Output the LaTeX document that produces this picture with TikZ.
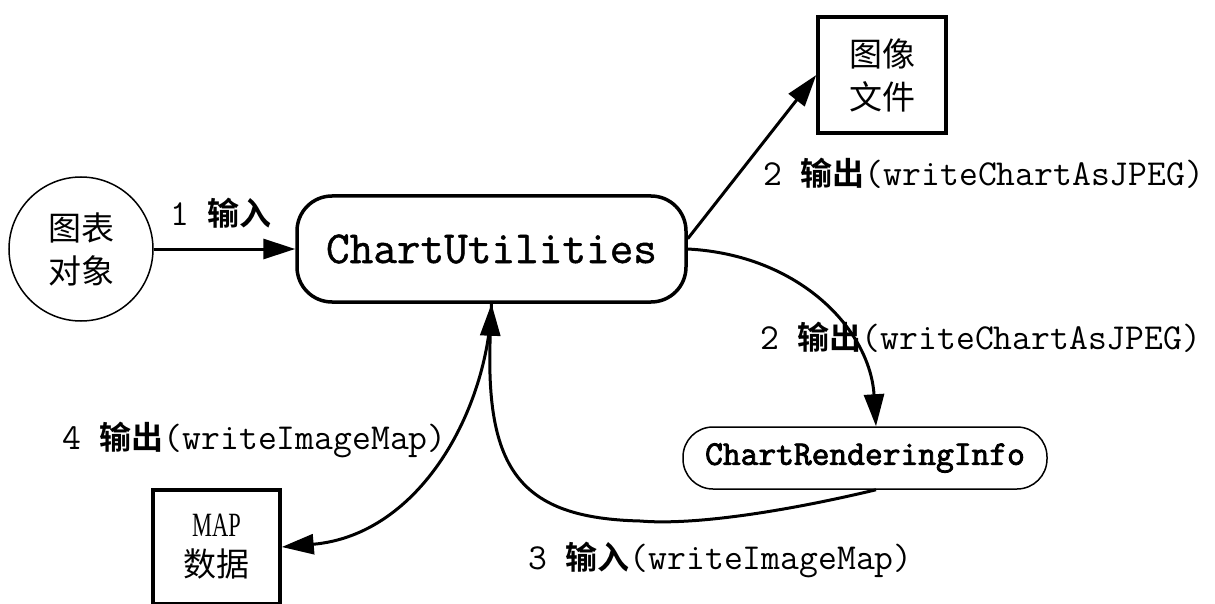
\documentclass[tikz,border=0pt]{standalone}
\usepackage{fontspec}
\usepackage{graphicx}
\newfontfamily\monof{Latin Modern Mono}
\newfontfamily\monobf{Latin Modern Mono}[FakeBold=2.5]
\newfontfamily\monomf{Latin Modern Mono}[FakeBold=1]
\newfontfamily\cjkf{Noto Sans CJK SC}
\newfontfamily\cjkbf{Noto Sans CJK SC Bold}
\newfontfamily\seriff{Liberation Serif}
\usetikzlibrary{arrows.meta}
\begin{document}
\begin{tikzpicture}[x=1pt,y=-1pt,
  thickbox/.style={draw, line width=3.5pt, inner sep=0pt},
  thinbox/.style={draw, line width=1.5pt, inner sep=0pt},
  cjktext/.style={font=\cjkf\fontsize{33}{43}\selectfont, align=center},
  lab/.style={font=\monof\fontsize{36.6}{42}\selectfont, inner sep=0pt, anchor=west},
  conn/.style={line width=3pt, -{Triangle[length=32pt,width=20pt]}},
]
\fill[white] (0,0) rectangle (1215,604);
\useasboundingbox (0,0) rectangle (1215,604);

\node[thinbox, circle, minimum size=144pt, cjktext] (obj) at (81,249) {图表\\对象};
\node[thickbox, rounded corners=35pt, minimum width=389pt, minimum height=106pt,
      font=\monomf\fontsize{45.9}{52}\selectfont] (cu) at (491.5,249) {ChartUtilities};
\node[thickbox, minimum width=128pt, minimum height=116pt, cjktext] (img) at (882,75) {图像\\文件};
\node[thinbox, rounded corners=30pt, minimum width=364pt, minimum height=62pt,
      font=\monobf\fontsize{34.5}{40}\selectfont] (cri) at (865,458) {ChartRenderingInfo};
\node[thickbox, minimum width=127pt, minimum height=114pt, align=center,
      font=\cjkf\fontsize{33}{40}\selectfont] (map) at (216.5,547)
      {{\seriff\fontsize{34}{40}\selectfont\scalebox{0.66}[1]{MAP}}\\数据};

\draw[conn] (obj.east) -- (cu.west);
\draw[conn] (cu.3) -- (img.west);
\draw[conn] (cu.east) .. controls (800,255) and (870,330) .. ([xshift=11pt]cri.north);
\draw[conn] ([xshift=11pt]cri.south) .. controls (800,508) and (700,526) .. (640,521)
            .. controls (520,518) and (485,470) .. (cu.south);
\draw[conn] (cu.south) .. controls (488,410) and (420,535) .. (map.east);

\node[lab] (l1) at (170,213) {1 {\cjkbf\fontsize{32}{38}\selectfont 输入}};
\node[lab] (l2a) at (763,173) {2 {\cjkbf\fontsize{32}{38}\selectfont 输出}(writeChartAsJPEG)};
\node[lab] (l2b) at (760,337) {2 {\cjkbf\fontsize{32}{38}\selectfont 输出}(writeChartAsJPEG)};
\node[lab] (l4) at (62,440) {4 {\cjkbf\fontsize{32}{38}\selectfont 输出}(writeImageMap)};
\node[lab] (l3) at (528,560) {3 {\cjkbf\fontsize{32}{38}\selectfont 输入}(writeImageMap)};
\end{tikzpicture}
\end{document}
